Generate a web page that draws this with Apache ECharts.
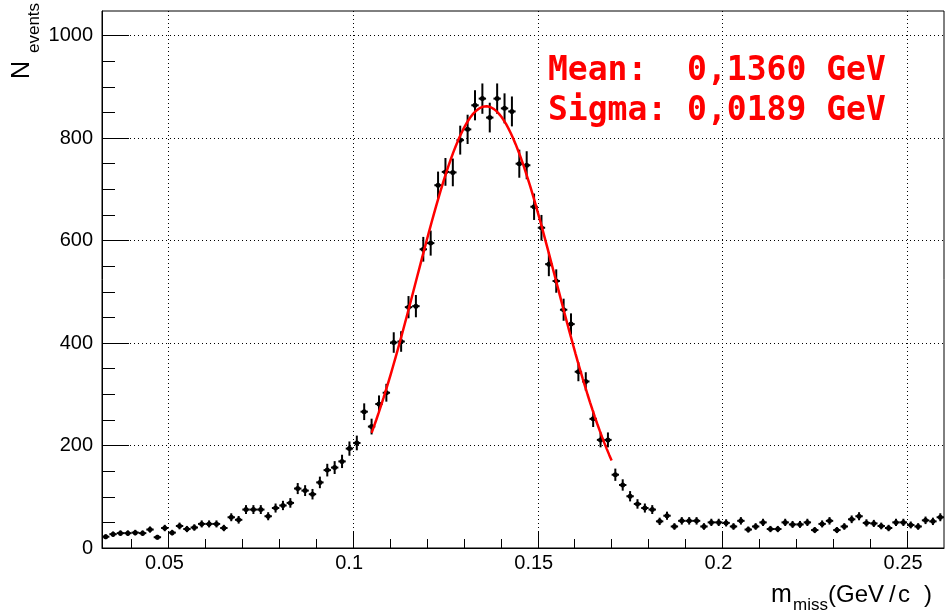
<!DOCTYPE html>
<html><head><meta charset="utf-8">
<script src="https://cdn.jsdelivr.net/npm/echarts@6/dist/echarts.min.js"></script>
<style>html,body{margin:0;padding:0;background:#fff}#c{width:945px;height:614px}</style>
</head><body><div id="c"></div>
<script>
// Bin centers (GeV/c), bin width 0.002
const binCenters = [
 0.033,0.035,0.037,0.039,0.041,0.043,0.045,0.047,0.049,0.051,
 0.053,0.055,0.057,0.059,0.061,0.063,0.065,0.067,0.069,0.071,
 0.073,0.075,0.077,0.079,0.081,0.083,0.085,0.087,0.089,0.091,
 0.093,0.095,0.097,0.099,0.101,0.103,0.105,0.107,0.109,0.111,
 0.113,0.115,0.117,0.119,0.121,0.123,0.125,0.127,0.129,0.131,
 0.133,0.135,0.137,0.139,0.141,0.143,0.145,0.147,0.149,0.151,
 0.153,0.155,0.157,0.159,0.161,0.163,0.165,0.167,0.169,0.171,
 0.173,0.175,0.177,0.179,0.181,0.183,0.185,0.187,0.189,0.191,
 0.193,0.195,0.197,0.199,0.201,0.203,0.205,0.207,0.209,0.211,
 0.213,0.215,0.217,0.219,0.221,0.223,0.225,0.227,0.229,0.231,
 0.233,0.235,0.237,0.239,0.241,0.243,0.245,0.247,0.249,0.251,
 0.253,0.255,0.257,0.259
];
const counts = [
 22,27,29,29,30,29,36,21,39,30,
 43,37,40,47,47,47,39,60,55,75,
 75,75,62,78,83,88,116,112,105,128,
 152,157,169,194,205,266,237,281,303,401,
 403,470,472,583,595,708,734,733,796,817,
 864,877,840,877,858,852,750,747,666,625,
 554,521,465,437,344,325,252,211,211,143,
 123,101,86,78,75,52,63,42,53,53,
 53,42,50,50,49,42,53,36,42,50,
 37,37,50,46,46,50,35,47,53,35,
 42,56,62,49,48,43,39,50,50,45,
 42,54,52,60
];
const binWidth = 0.002;
const xRange = [0.032, 0.26];
const yRange = [0, 1048];
const xMajorTicks = [0.05, 0.1, 0.15, 0.2, 0.25];
const xMinorTicks = [0.04,0.06,0.07,0.08,0.09,0.11,0.12,0.13,0.14,0.16,0.17,0.18,0.19,0.21,0.22,0.23,0.24];
const yMajorTicks = [0, 200, 400, 600, 800, 1000];
const yMinorTicks = [50,100,150,250,300,350,450,500,550,650,700,750,850,900,950];
// Gaussian fit parameters
const fitMean = 0.136, fitSigma = 0.0189, fitAmp = 862, fitRange = [0.105, 0.170];
const fitText = ["Mean:  0,1360 GeV", "Sigma: 0,0189 GeV"];

const histData = binCenters.map((x, i) => [x, counts[i], Math.sqrt(counts[i])]);
const fitData = [];
for (let k = 0; k <= 100; k++) {
  const x = fitRange[0] + (fitRange[1] - fitRange[0]) * k / 100;
  fitData.push([x, fitAmp * Math.exp(-0.5 * Math.pow((x - fitMean) / fitSigma, 2))]);
}

const FONT = "'Liberation Sans', Arial, Helvetica, sans-serif";
const chart = echarts.init(document.getElementById('c'), null, {renderer: 'canvas'});
const dotted = {color: '#000', width: 1, type: [1, 3]};

chart.setOption({
  animation: false,
  backgroundColor: '#fff',
  grid: {left: 102, right: 1, top: 11, bottom: 66, show: true, borderColor: '#000', borderWidth: 1, containLabel: false},
  xAxis: [{
    type: 'value', min: xRange[0], max: xRange[1],
    axisLine: {show: true, onZero: false, lineStyle: {color: '#000', width: 1}},
    axisTick: {show: true, inside: true, length: 17, customValues: xMajorTicks, lineStyle: {color: '#000', width: 1}},
    axisLabel: {show: true, customValues: xMajorTicks, color: '#000', fontFamily: FONT, fontSize: 20, margin: 5, padding: [0, 8, 0, 0],
      formatter: v => String(v)},
    splitLine: {show: true, lineStyle: dotted},
    minorTick: {show: false}
  }, {
    type: 'value', min: xRange[0], max: xRange[1], position: 'bottom',
    axisLine: {show: false, onZero: false},
    axisTick: {show: true, inside: true, length: 9, customValues: xMinorTicks, lineStyle: {color: '#000', width: 1}},
    axisLabel: {show: false},
    splitLine: {show: false}
  }],
  yAxis: [{
    type: 'value', min: yRange[0], max: yRange[1],
    axisLine: {show: true, onZero: false, lineStyle: {color: '#000', width: 1}},
    axisTick: {show: true, inside: true, length: 27, customValues: yMajorTicks, lineStyle: {color: '#000', width: 1}},
    axisLabel: {show: true, customValues: yMajorTicks, color: '#000', fontFamily: FONT, fontSize: 20, margin: 9,
      formatter: v => String(v)},
    splitLine: {show: true, lineStyle: dotted}
  }, {
    type: 'value', min: yRange[0], max: yRange[1], position: 'left',
    axisLine: {show: false, onZero: false},
    axisTick: {show: true, inside: true, length: 13, customValues: yMinorTicks, lineStyle: {color: '#000', width: 1}},
    axisLabel: {show: false},
    splitLine: {show: false}
  }],
  series: [{
    type: 'custom',
    xAxisIndex: 0, yAxisIndex: 0,
    clip: true,
    data: histData,
    renderItem: function (params, api) {
      const x = api.value(0), y = api.value(1), e = api.value(2);
      const pL = api.coord([x - binWidth / 2, y]);
      const pR = api.coord([x + binWidth / 2, y]);
      const pT = api.coord([x, y + e]);
      const pB = api.coord([x, y - e]);
      const c = api.coord([x, y]);
      return {type: 'group', children: [
        {type: 'line', shape: {x1: pL[0], y1: pL[1], x2: pR[0], y2: pR[1]}, style: {stroke: '#000', lineWidth: 2}},
        {type: 'line', shape: {x1: pT[0], y1: pT[1], x2: pB[0], y2: pB[1]}, style: {stroke: '#000', lineWidth: 2}},
        {type: 'circle', shape: {cx: c[0], cy: c[1], r: 2.5}, style: {fill: '#000'}}
      ]};
    }
  }, {
    type: 'line',
    xAxisIndex: 0, yAxisIndex: 0,
    data: fitData,
    showSymbol: false,
    smooth: false,
    lineStyle: {color: '#ff0000', width: 2.5},
    z: 3
  }],
  graphic: [
    {type: 'text', x: 548, y: 71, style: {text: fitText[0], font: "bold 33px 'DejaVu Sans Mono', monospace", fill: '#ff0000', align: 'left', verticalAlign: 'middle'}},
    {type: 'text', x: 548, y: 111, style: {text: fitText[1], font: "bold 33px 'DejaVu Sans Mono', monospace", fill: '#ff0000', align: 'left', verticalAlign: 'middle'}},
    // x-axis title m_miss(GeV/c)
    {type: 'text', x: 771, y: 595, style: {text: 'm', font: "25px " + FONT, fill: '#000', align: 'left', verticalAlign: 'middle'}},
    {type: 'text', x: 793, y: 605, style: {text: 'miss', font: "17px " + FONT, fill: '#000', align: 'left', verticalAlign: 'middle'}},
    {type: 'text', x: 828, y: 595, style: {text: '(GeV', font: "24px " + FONT, fill: '#000', align: 'left', verticalAlign: 'middle'}},
    {type: 'text', x: 889, y: 595, style: {text: '/', font: "24px " + FONT, fill: '#000', align: 'left', verticalAlign: 'middle'}},
    {type: 'text', x: 898, y: 595, style: {text: 'c', font: "24px " + FONT, fill: '#000', align: 'left', verticalAlign: 'middle'}},
    {type: 'text', x: 924, y: 595, style: {text: ')', font: "24px " + FONT, fill: '#000', align: 'left', verticalAlign: 'middle'}},
    // y-axis title N_events (rotated)
    {type: 'text', x: 22, y: 79, rotation: Math.PI / 2, style: {text: 'N', x: 0, y: 0, font: "25px " + FONT, fill: '#000', align: 'left', verticalAlign: 'middle'}},
    {type: 'text', x: 34, y: 53, rotation: Math.PI / 2, style: {text: 'events', x: 0, y: 0, font: "17px " + FONT, fill: '#000', align: 'left', verticalAlign: 'middle'}}
  ]
});
</script>
</body></html>
